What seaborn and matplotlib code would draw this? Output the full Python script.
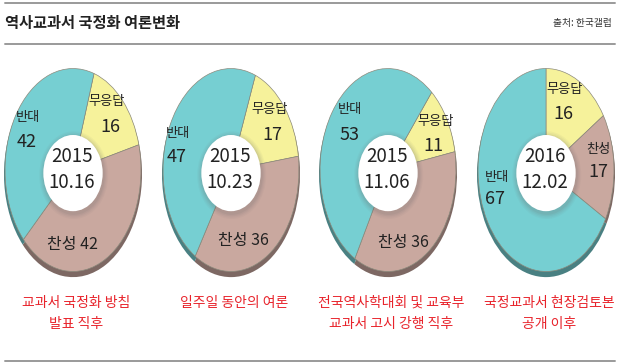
import numpy as np
import pandas as pd
import matplotlib
matplotlib.use("Agg")
import matplotlib.pyplot as plt
from matplotlib.patches import Ellipse
from matplotlib.lines import Line2D
import seaborn as sns

sns.set_theme(style="white")
plt.rcParams['font.family'] = ['Noto Sans CJK KR', 'DejaVu Sans']

# --- data ---
categories = ['무응답', '찬성', '반대']
dates = ['2015\n10.16', '2015\n10.23', '2015\n11.06', '2016\n12.02']
no_answer = [16, 17, 11, 16]
agree = [42, 36, 36, 17]
disagree = [42, 47, 53, 67]
captions = ['교과서 국정화 방침\n발표 직후',
            '일주일 동안의 여론',
            '전국역사학대회 및 교육부\n교과서 고시 강행 직후',
            '국정교과서 현장검토본\n공개 이후']

# --- layout (pixels) ---
W, H = 620, 364
centers_x = [73, 231, 388, 546]
center_y = 170
ring_w, ring_h = 138, 206
start_deg = [18, 21, 40, 0]   # clockwise from 12 o'clock
# label positions (px) per donut, order: 무응답, 찬성, 반대
label_pos = [
    [(107, 102), (110, 127), (72, 245), None, (28, 117), (27, 142)],
    [(270, 109), (272, 135), (243, 241), None, (178, 133), (177, 157)],
    [(436, 122), (433, 146), (403, 242), None, (350, 110), (350, 135)],
    [(565, 89), (563, 114), (598, 150), (598, 172), (497, 177), (495, 199)],
]

colors = ['#f6f29b', '#c9a89f', '#76cfd2']
pal = sns.color_palette(colors)
dark = [tuple(np.array(c) * 0.62) for c in pal]

narrow = ['Liberation Sans Narrow', 'Noto Sans CJK KR']

fig = plt.figure(figsize=(W / 100, H / 100), dpi=100)


def px(x, y):
    return x / W, 1 - y / H


# header / footer rules
for yy in [3, 44, 361]:
    fig.add_artist(Line2D([0.008, 0.992], [1 - yy / H] * 2, color='#9a9a9a', lw=1.4))

fig.text(*px(5, 23), '역사교과서 국정화 여론변화', fontsize=11, fontweight='bold',
         color='#222222', ha='left', va='center')
fig.text(*px(612, 23), '출처: 한국갤럽', fontsize=7, color='#333333',
         ha='right', va='center')

df = pd.DataFrame({'무응답': no_answer, '찬성': agree, '반대': disagree})

for i, row in df.iterrows():
    vals = row[categories].values.astype(float)
    cx = centers_x[i]
    ax = fig.add_axes([(cx - ring_w / 2) / W, 1 - (center_y + ring_h / 2 + 6) / H,
                       ring_w / W, (ring_h + 6) / H])
    sa = 90 - start_deg[i]
    # rim shading
    ax.pie(vals, colors=dark, startangle=sa, counterclock=False, radius=1.0,
           center=(0, -0.04), wedgeprops=dict(linewidth=0))
    ax.pie(vals, colors=pal, startangle=sa, counterclock=False, radius=0.985,
           center=(0, 0), wedgeprops=dict(linewidth=0.5, edgecolor='#8c8a7c'))
    ax.set_aspect('auto')
    ax.set_xlim(-1, 1)
    ax.set_ylim(-1 - 12 / ring_h, 1)
    ax.axis('off')
    # inner hole with soft shadow
    for k, a in enumerate([0.05, 0.06, 0.08, 0.1]):
        grow = 0.07 - k * 0.017
        ax.add_patch(Ellipse((0.01, -0.05), 2 * (0.43 + grow), 2 * (0.37 + grow * 0.8),
                             facecolor='#6a6a6a', alpha=a, lw=0))
    ax.add_patch(Ellipse((0, -0.03), 0.86, 0.74, facecolor='white', lw=0))

    d1, d2 = dates[i].split('\n')
    fig.text(*px(cx - 1, 157), d1, fontsize=13.5, family=narrow, color='#222222',
             ha='center', va='center')
    fig.text(*px(cx - 1, 183), d2, fontsize=13.5, family=narrow, color='#222222',
             ha='center', va='center')

    lp = label_pos[i]
    fig.text(*px(*lp[0]), '무응답', fontsize=9.5, color='#222222', ha='center', va='center')
    fig.text(*px(*lp[1]), f'{no_answer[i]}', fontsize=13, family=narrow,
             color='#222222', ha='center', va='center')
    if lp[3] is None:
        fig.text(*px(*lp[2]), f'찬성 {agree[i]}', fontsize=11.5, family=narrow,
                 color='#222222', ha='center', va='center')
    else:
        fig.text(*px(*lp[2]), '찬성', fontsize=9.5, color='#222222', ha='center', va='center')
        fig.text(*px(*lp[3]), f'{agree[i]}', fontsize=13, family=narrow,
                 color='#222222', ha='center', va='center')
    fig.text(*px(*lp[4]), '반대', fontsize=9.5, color='#222222', ha='center', va='center')
    fig.text(*px(*lp[5]), f'{disagree[i]}', fontsize=13, family=narrow,
             color='#222222', ha='center', va='center')

    fig.text(*px(cx + 3, 296), captions[i], fontsize=10, fontweight='medium',
             color='#e8232b', ha='center', va='top', linespacing=1.6)

fig.savefig('out.png', dpi=100)
